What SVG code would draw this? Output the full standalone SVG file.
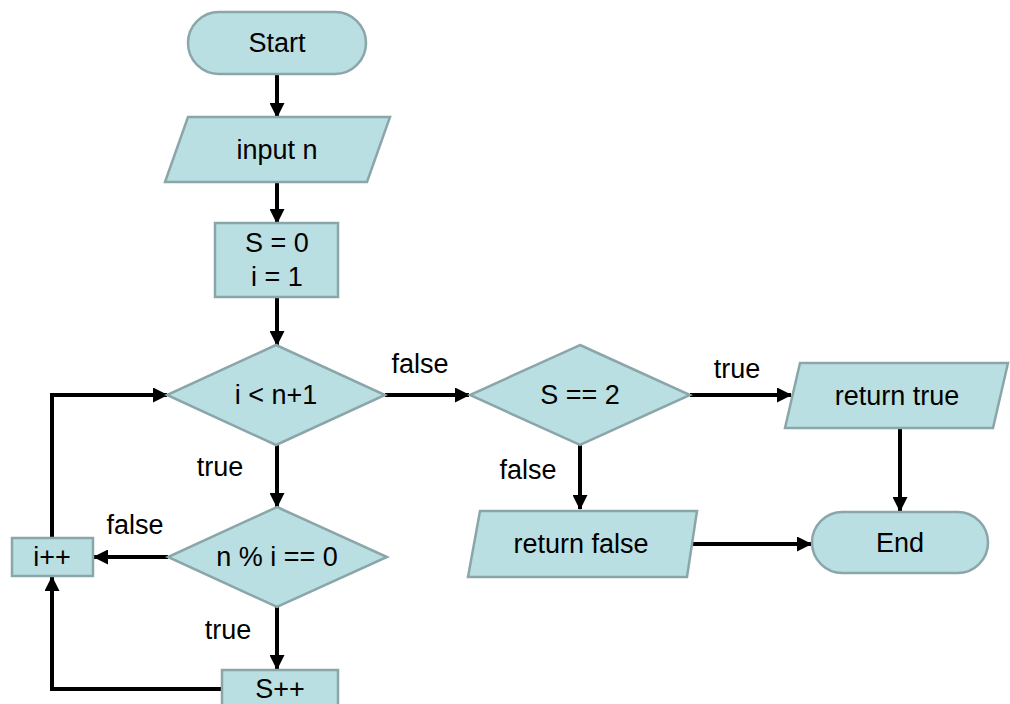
<svg xmlns="http://www.w3.org/2000/svg" width="1010" height="704" viewBox="0 0 1010 704">
  <defs>
    <marker id="arrow" viewBox="0 0 15 15" refX="14" refY="7.5" markerWidth="15" markerHeight="15" markerUnits="userSpaceOnUse" orient="auto">
      <path d="M0,0 L15,7.5 L0,15 Z" fill="#000"/>
    </marker>
    <style>
      .shape { fill: #b9dfe3; stroke: #8ba6a9; stroke-width: 2.5; }
      .txt { font-family: "Liberation Sans", Arial, sans-serif; font-size: 27px; fill: #000; text-anchor: middle; dominant-baseline: central; }
      .lbl { font-family: "Liberation Sans", Arial, sans-serif; font-size: 27px; fill: #000; text-anchor: middle; dominant-baseline: central; }
      .edge { fill: none; stroke: #000; stroke-width: 4; marker-end: url(#arrow); }
    </style>
  </defs>
  <rect width="1010" height="704" fill="#ffffff"/>

  <g id="connectors">
    <path class="edge" d="M277,74 L277,117"/>
    <path class="edge" d="M277,182 L277,223"/>
    <path class="edge" d="M277,297 L277,345"/>
    <path class="edge" d="M385,395 L469,395"/>
    <path class="edge" d="M690,395 L791,395"/>
    <path class="edge" d="M580,445 L580,509"/>
    <path class="edge" d="M900,428 L900,511"/>
    <path class="edge" d="M687,544 L811,544"/>
    <path class="edge" d="M277,445 L277,507"/>
    <path class="edge" d="M168,557 L94,557"/>
    <path class="edge" d="M277,607 L277,669"/>
    <path class="edge" d="M222,689 L52,689 L52,577"/>
    <path class="edge" d="M52,538 L52,395 L167,395"/>
    <text class="lbl" x="420" y="364">false</text>
    <text class="lbl" x="737" y="369">true</text>
    <text class="lbl" x="528" y="470">false</text>
    <text class="lbl" x="220" y="467">true</text>
    <text class="lbl" x="135" y="525">false</text>
    <text class="lbl" x="228" y="630">true</text>
  </g>

  <g id="start">
    <rect class="shape" x="188" y="12" width="178" height="62" rx="31" ry="31"/>
    <text class="txt" x="277" y="43">Start</text>
  </g>

  <g id="input-n">
    <polygon class="shape" points="188,117 390,117 367,182 165,182"/>
    <text class="txt" x="277" y="150">input n</text>
  </g>

  <g id="init">
    <rect class="shape" x="215" y="223" width="123" height="74"/>
    <text class="txt" x="277" y="243">S = 0</text>
    <text class="txt" x="277" y="277">i = 1</text>
  </g>

  <g id="loop-test">
    <polygon class="shape" points="276,345 385,395 276,445 167,395"/>
    <text class="txt" x="276" y="395">i &lt; n+1</text>
  </g>

  <g id="count-test">
    <polygon class="shape" points="580,345 690,395 580,445 470,395"/>
    <text class="txt" x="580" y="395">S == 2</text>
  </g>

  <g id="return-true">
    <polygon class="shape" points="800,363 1008,363 993,428 785,428"/>
    <text class="txt" x="897" y="396">return true</text>
  </g>

  <g id="return-false">
    <polygon class="shape" points="480,511 697,511 687,577 468,577"/>
    <text class="txt" x="581" y="544">return false</text>
  </g>

  <g id="end">
    <rect class="shape" x="812" y="512" width="176" height="61" rx="30.5" ry="30.5"/>
    <text class="txt" x="900" y="543">End</text>
  </g>

  <g id="divisor-test">
    <polygon class="shape" points="277,507 387,557 277,607 168,557"/>
    <text class="txt" x="277" y="557">n % i == 0</text>
  </g>

  <g id="increment-i">
    <rect class="shape" x="12" y="538" width="81" height="38"/>
    <text class="txt" x="52" y="557">i++</text>
  </g>

  <g id="increment-s">
    <rect class="shape" x="222" y="670" width="116" height="44"/>
    <text class="txt" x="280" y="689">S++</text>
  </g>
</svg>
